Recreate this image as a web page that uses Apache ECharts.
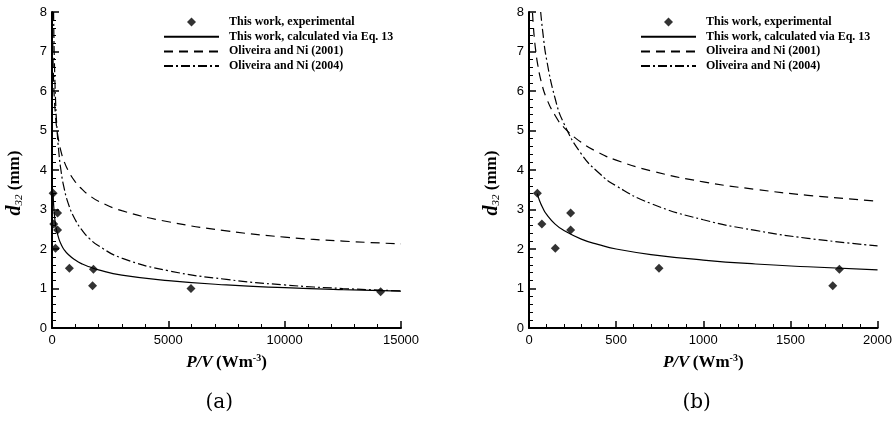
<!DOCTYPE html>
<html>
<head>
<meta charset="utf-8">
<script src="https://cdn.jsdelivr.net/npm/echarts@6/dist/echarts.min.js"></script>
<style>
  html, body { margin: 0; padding: 0; background: #fff; }
  #chart { width: 895px; height: 428px; }
</style>
</head>
<body>
<div id="chart"></div>
<script>
// experimental points [P/V, d32]
const expPoints = [[48, 3.41], [74, 2.63], [151, 2.02], [239, 2.91], [239, 2.48], [746, 1.51], [1743, 1.07], [1781, 1.49], [5973, 1.0], [14125, 0.92]]

// curves
const eq13Curve = [[48, 3.40], [60, 3.23], [80, 3.03], [100, 2.88], [150, 2.63], [200, 2.47], [300, 2.25], [400, 2.11], [500, 2.00], [700, 1.86], [1000, 1.72], [1300, 1.62], [1600, 1.55], [2000, 1.47], [3000, 1.34], [5000, 1.20], [7500, 1.09], [10000, 1.02], [12500, 0.97], [15000, 0.935]]
const ni2001Curve = [[20, 7.98], [25, 7.64], [30, 7.37], [38, 7.04], [50, 6.67], [70, 6.24], [100, 5.82], [150, 5.38], [200, 5.08], [300, 4.70], [400, 4.44], [500, 4.25], [700, 3.98], [1000, 3.70], [1300, 3.51], [1600, 3.36], [2000, 3.21], [3000, 2.97], [5000, 2.69], [7500, 2.46], [10000, 2.30], [12500, 2.20], [15000, 2.13]]
const ni2004Curve = [[67, 8.00], [80, 7.46], [100, 6.82], [150, 5.81], [200, 5.18], [300, 4.41], [400, 3.93], [500, 3.60], [700, 3.15], [1000, 2.74], [1300, 2.47], [1600, 2.27], [2000, 2.08], [3000, 1.77], [5000, 1.45], [7500, 1.23], [10000, 1.09], [12500, 1.00], [15000, 0.94]]

const seriesNames = ['This work, experimental', 'This work, calculated via Eq. 13', 'Oliveira and Ni (2001)', 'Oliveira and Ni (2004)']
const xMaxes = [15000, 2000]
const xIntervals = [5000, 500]
const panelLabels = ['(a)', '(b)']

const gridLefts = [52, 529]
const plotW = 349

const axisFont = { fontFamily: 'Liberation Sans', fontSize: 13, color: '#000' }
// diamond centred in the 55x12 legend box (the two moves only set the box)
const diamondIcon = 'path://M0,0M55,12M27.5,1.5L32,6L27.5,10.5L23,6Z'

function makeSeries (i) {
  const lim = xMaxes[i]
  const cut = arr => arr.filter(p => p[0] <= lim)
  const common = { xAxisIndex: i, yAxisIndex: i, animation: false, silent: true }
  return [
    Object.assign({ name: seriesNames[0], type: 'scatter', data: cut(expPoints), symbol: 'diamond', symbolSize: 9, itemStyle: { color: '#000' } }, common),
    Object.assign({ name: seriesNames[1], type: 'line', data: cut(eq13Curve), smooth: true, showSymbol: false, symbol: 'none', lineStyle: { color: '#000', width: 1.2 }, itemStyle: { color: '#000' } }, common),
    Object.assign({ name: seriesNames[2], type: 'line', data: cut(ni2001Curve), smooth: true, showSymbol: false, symbol: 'none', lineStyle: { color: '#000', width: 1.2, type: [9, 6] }, itemStyle: { color: '#000' } }, common),
    Object.assign({ name: seriesNames[3], type: 'line', data: cut(ni2004Curve), smooth: true, showSymbol: false, symbol: 'none', lineStyle: { color: '#000', width: 1.2, type: [9, 3, 2, 3] }, itemStyle: { color: '#000' } }, common)
  ]
}

const legendData = seriesNames.map((n, k) => k === 0
  ? { name: n, icon: diamondIcon }
  : { name: n, itemStyle: { opacity: 0 } })

const myChart = echarts.init(document.getElementById('chart'), null, { renderer: 'canvas' })

const option = {
  animation: false,
  grid: gridLefts.map(l => ({ left: l, width: plotW, top: 12, height: 316 })),
  legend: gridLefts.map(l => ({
    data: legendData,
    orient: 'vertical',
    left: l + 106,
    top: 11,
    itemWidth: 55,
    itemHeight: 12,
    itemGap: 2.7,
    selectedMode: false,
    textStyle: { fontFamily: 'Liberation Serif', fontWeight: 'bold', fontSize: 12, color: '#000', padding: [0, 0, 0, 5] }
  })),
  xAxis: [0, 1].map(i => ({
    gridIndex: i,
    type: 'value',
    min: 0,
    max: xMaxes[i],
    interval: xIntervals[i],
    splitLine: { show: false },
    axisLine: { onZero: false, lineStyle: { color: '#000', width: 2 } },
    axisTick: { inside: true, length: 7, lineStyle: { color: '#000', width: 1.5 } },
    minorTick: { show: true, splitNumber: 5, length: 4, lineStyle: { color: '#000', width: 1 } },
    axisLabel: Object.assign({ margin: 6, formatter: v => String(v) }, axisFont),
    name: '{i|P/V} {b|(Wm}{s|-3}{b|)}',
    nameLocation: 'middle',
    nameGap: 25,
    nameTextStyle: {
      rich: {
        i: { fontFamily: 'Liberation Serif', fontStyle: 'italic', fontWeight: 'bold', fontSize: 17, color: '#000' },
        b: { fontFamily: 'Liberation Serif', fontWeight: 'bold', fontSize: 17, color: '#000' },
        s: { fontFamily: 'Liberation Serif', fontWeight: 'bold', fontSize: 10, color: '#000', padding: [0, 0, 10, 0] }
      }
    }
  })),
  yAxis: [0, 1].map(i => ({
    gridIndex: i,
    type: 'value',
    min: 0,
    max: 8,
    interval: 1,
    splitLine: { show: false },
    axisLine: { onZero: false, lineStyle: { color: '#000', width: 2 } },
    axisTick: { inside: true, length: 7, lineStyle: { color: '#000', width: 1.5 } },
    minorTick: { show: true, splitNumber: 5, length: 4, lineStyle: { color: '#000', width: 1 } },
    axisLabel: Object.assign({ margin: 5 }, axisFont),
    name: '{d|d}{s|32}{n| (mm)}',
    nameLocation: 'middle',
    nameRotate: 90,
    nameGap: 27,
    nameTextStyle: {
      padding: [0, 26, 0, 0],
      rich: {
        d: { fontFamily: 'Liberation Serif', fontStyle: 'italic', fontWeight: 'bold', fontSize: 20, color: '#000' },
        s: { fontFamily: 'Liberation Serif', fontStyle: 'italic', fontSize: 11, color: '#000', padding: [9, 0, 0, 0] },
        n: { fontFamily: 'Liberation Serif', fontWeight: 'bold', fontSize: 17, color: '#000' }
      }
    }
  })),
  graphic: panelLabels.map((t, i) => ({
    type: 'text',
    left: gridLefts[i] + plotW / 2 - 21,
    top: 393,
    style: { text: t, font: '20px "DejaVu Serif", serif', fill: '#000' }
  })),
  series: makeSeries(0).concat(makeSeries(1))
}

myChart.setOption(option)
</script>
</body>
</html>
